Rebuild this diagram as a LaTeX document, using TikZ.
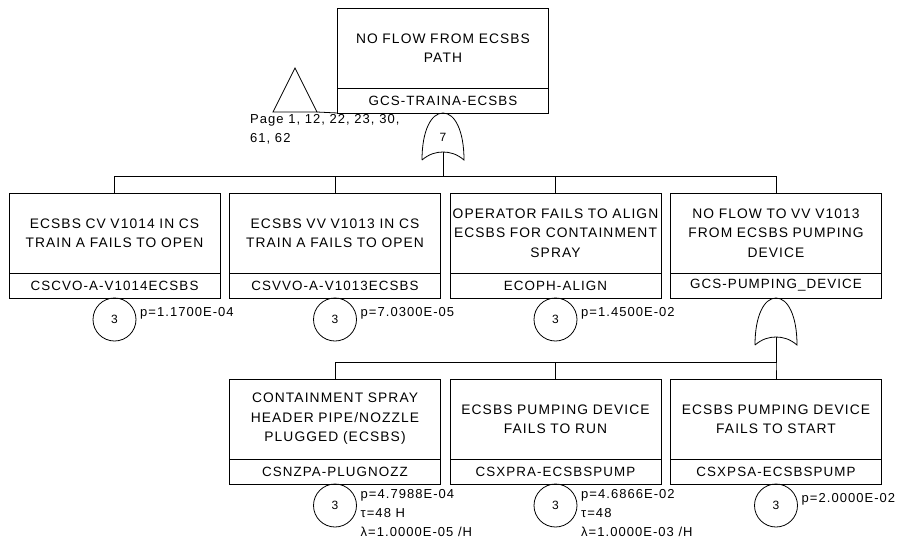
\documentclass[tikz,border=0pt]{standalone}
\usepackage{fontspec}
\setmainfont{Liberation Sans}[LetterSpace=8.0]
\usetikzlibrary{shapes.geometric,positioning,calc}

\begin{document}
\begin{tikzpicture}[x=1pt,y=-1pt,
  desc/.style={rectangle,draw,line width=0.8pt,minimum width=211pt,minimum height=80pt,
               text width=209pt,align=center,inner sep=0pt,outer sep=0pt,
               font=\fontsize{13.8}{19.5}\selectfont},
  tag/.style={rectangle,draw,line width=0.8pt,minimum width=211pt,minimum height=25pt,
              inner sep=0pt,outer sep=0pt,font=\fontsize{13.4}{15}\selectfont},
  basic/.style={circle,draw,line width=0.8pt,minimum size=43pt,inner sep=0pt,outer sep=0pt,
                font=\fontsize{12}{13}\selectfont},
  prob/.style={inner sep=0pt,align=left,font=\fontsize{13}{19}\selectfont},
  xferout/.style={isosceles triangle,isosceles triangle stretches,shape border rotate=90,
                  draw,line width=0.8pt,minimum width=44pt,minimum height=44pt,
                  inner sep=0pt,outer sep=0pt},
  wire/.style={line width=0.8pt},
  orgate/.pic={
    \draw[line width=0.8pt] (-21,47) .. controls (-21,18) and (-12,0) .. (0,0)
      .. controls (12,0) and (21,18) .. (21,47)
      .. controls (14,41) and (7,39) .. (0,39)
      .. controls (-7,39) and (-14,41) .. (-21,47);
    \coordinate (-top) at (0,0);
    \coordinate (-bot) at (0,39);}]
\useasboundingbox[fill=white] (0,0) rectangle (900,550);

% top event
\node[desc] (topd) at (443,48) {NO FLOW FROM ECSBS\\PATH};
\node[tag,below=0pt of topd] (topt) {GCS-TRAINA-ECSBS};
\node[xferout,anchor=south] (xfer) at (295,112) {};
\node[prob,anchor=north west] (pages) at (250,114) {Page 1, 12, 22, 23, 30,\\61, 62};
\draw[wire] (xfer.right corner) -- (topt.south west);
\pic (or1) at (topt.south) {orgate};
\node[font=\fontsize{12}{13}\selectfont] (or1num) at ([yshift=-24pt]or1-top) {7};

% second level
\node[desc] (ev1d) at (114.5,233) {ECSBS CV V1014 IN CS\\TRAIN A FAILS TO OPEN};
\node[tag,below=0pt of ev1d] (ev1t) {CSCVO-A-V1014ECSBS};
\node[desc] (ev2d) at (335,233) {ECSBS VV V1013 IN CS\\TRAIN A FAILS TO OPEN};
\node[tag,below=0pt of ev2d] (ev2t) {CSVVO-A-V1013ECSBS};
\node[desc] (ev3d) at (555.5,233) {OPERATOR FAILS TO ALIGN\\ECSBS FOR CONTAINMENT\\SPRAY};
\node[tag,below=0pt of ev3d] (ev3t) {ECOPH-ALIGN};
\node[desc] (gt2d) at (776,233) {NO FLOW TO VV V1013\\FROM ECSBS PUMPING\\DEVICE};
\node[tag,below=0pt of gt2d] (gt2t) {GCS-PUMPING\_DEVICE};

\foreach \n in {ev1d,ev2d,ev3d,gt2d}
  \draw[wire] (or1-bot) |- ([yshift=17pt]\n.north) -- (\n.north);

\node[basic,below=0pt of ev1t] (ev1c) {3};
\node[basic,below=0pt of ev2t] (ev2c) {3};
\node[basic,below=0pt of ev3t] (ev3c) {3};
\node[prob,anchor=west] (ev1p) at ([xshift=4pt,yshift=6pt]ev1c.east) {p=1.1700E-04};
\node[prob,anchor=west] (ev2p) at ([xshift=4pt,yshift=6pt]ev2c.east) {p=7.0300E-05};
\node[prob,anchor=west] (ev3p) at ([xshift=4pt,yshift=6pt]ev3c.east) {p=1.4500E-02};

\pic (or2) at (gt2t.south) {orgate};

% third level
\node[desc] (ev4d) at (335,419) {CONTAINMENT SPRAY\\HEADER PIPE/NOZZLE\\PLUGGED (ECSBS)};
\node[tag,below=0pt of ev4d] (ev4t) {CSNZPA-PLUGNOZZ};
\node[desc] (ev5d) at (555.5,419) {ECSBS PUMPING DEVICE\\FAILS TO RUN};
\node[tag,below=0pt of ev5d] (ev5t) {CSXPRA-ECSBSPUMP};
\node[desc] (ev6d) at (776,419) {ECSBS PUMPING DEVICE\\FAILS TO START};
\node[tag,below=0pt of ev6d] (ev6t) {CSXPSA-ECSBSPUMP};

\foreach \n in {ev4d,ev5d,ev6d}
  \draw[wire] (or2-bot) |- ([yshift=17pt]\n.north) -- (\n.north);

\node[basic,below=0pt of ev4t] (ev4c) {3};
\node[basic,below=0pt of ev5t] (ev5c) {3};
\node[basic,below=0pt of ev6t] (ev6c) {3};
\node[prob,anchor=north west] (ev4p) at ([xshift=4pt,yshift=16pt]ev4c.east)
  {p=4.7988E-04\\τ=48 H\\λ=1.0000E-05 /H};
\node[prob,anchor=north west] (ev5p) at ([xshift=4pt,yshift=16pt]ev5c.east)
  {p=4.6866E-02\\τ=48\\λ=1.0000E-03 /H};
\node[prob,anchor=west] (ev6p) at ([xshift=4pt,yshift=6pt]ev6c.east) {p=2.0000E-02};
\end{tikzpicture}
\end{document}
